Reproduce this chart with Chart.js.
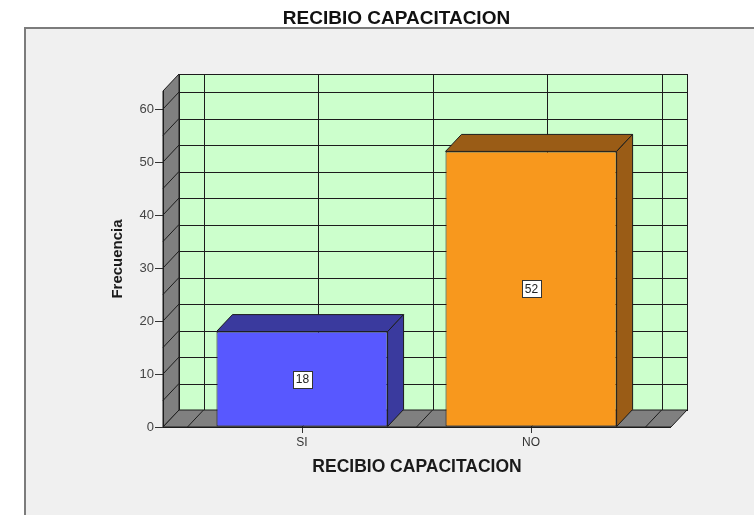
<!DOCTYPE html>
<html>
<head>
<meta charset="utf-8">
<script src="https://cdn.jsdelivr.net/npm/chart.js@4/dist/chart.umd.min.js"></script>
<style>
  html, body { margin: 0; padding: 0; background: #ffffff; }
  canvas { display: block; }
</style>
</head>
<body>
<canvas id="grafico" width="754" height="515"></canvas>
<script>
// Frecuencias de la variable "Recibió capacitación"
const categories = ['SI', 'NO'];
const frecuencias = [18, 52];
const yTickStep = 10;
const yMax = 63.4;
const tituloGrafico = 'RECIBIO CAPACITACION';
const tituloEjeX = 'RECIBIO CAPACITACION';
const tituloEjeY = 'Frecuencia';

// Estilo
const FONT = '"Liberation Sans", Arial, Helvetica, sans-serif';
const frontColors = ['#5858ff', '#f8981d'];
const sideColors = ['#3a3a9e', '#9a5c16'];
const EDGE = '#1c1c1c';
const WALL_BACK = '#ccffcc';
const WALL_SIDE = '#808080';
const DX = 16, DY = -17;      // profundidad del efecto 3D
const GRID_STEP_Y = 5;        // rejilla de la pared del fondo
const GRID_STEP_X = 0.5;

// Fondo gris del marco del gráfico
const panelPlugin = {
  id: 'panel',
  beforeDraw(chart) {
    const { ctx, width, height } = chart;
    ctx.save();
    ctx.fillStyle = '#ffffff';
    ctx.fillRect(0, 0, width, height);
    ctx.fillStyle = '#f0f0f0';
    ctx.fillRect(24, 27, width - 24, height - 27);
    ctx.strokeStyle = '#7c7c7c';
    ctx.lineWidth = 2;
    ctx.beginPath();
    ctx.moveTo(25, height);
    ctx.lineTo(25, 28);
    ctx.lineTo(width, 28);
    ctx.stroke();
    ctx.restore();
  }
};

// Paredes, suelo y rejilla en perspectiva
const cajaPlugin = {
  id: 'caja3d',
  beforeDatasetsDraw(chart) {
    const { ctx } = chart;
    const xs = chart.scales.x, ys = chart.scales.y;
    const L = xs.getPixelForValue(xs.min), R = xs.getPixelForValue(xs.max);
    const B = ys.getPixelForValue(0), T = ys.getPixelForValue(ys.max);
    const s = v => Math.round(v) + 0.5;
    ctx.save();
    ctx.lineWidth = 1;
    ctx.strokeStyle = EDGE;

    // pared del fondo
    ctx.fillStyle = WALL_BACK;
    ctx.fillRect(L + DX, T + DY, R - L, B - T);
    ctx.beginPath();
    for (let v = GRID_STEP_Y; v < ys.max; v += GRID_STEP_Y) {
      const y = s(ys.getPixelForValue(v) + DY);
      ctx.moveTo(L + DX, y); ctx.lineTo(R + DX, y);
    }
    for (let v = -0.5; v <= categories.length - 0.5 + 1e-9; v += GRID_STEP_X) {
      const x = s(xs.getPixelForValue(v) + DX);
      ctx.moveTo(x, T + DY); ctx.lineTo(x, B + DY);
    }
    ctx.stroke();
    ctx.strokeRect(s(L + DX), s(T + DY), Math.round(R - L), Math.round(B - T));

    // pared lateral izquierda
    ctx.fillStyle = WALL_SIDE;
    ctx.beginPath();
    ctx.moveTo(L, B); ctx.lineTo(L, T); ctx.lineTo(L + DX, T + DY); ctx.lineTo(L + DX, B + DY);
    ctx.closePath();
    ctx.fill(); ctx.stroke();
    ctx.beginPath();
    for (let v = GRID_STEP_Y; v < ys.max; v += GRID_STEP_Y) {
      const y = ys.getPixelForValue(v);
      ctx.moveTo(L, y); ctx.lineTo(L + DX, y + DY);
    }
    ctx.stroke();

    // suelo
    ctx.beginPath();
    ctx.moveTo(L, B); ctx.lineTo(R, B); ctx.lineTo(R + DX, B + DY); ctx.lineTo(L + DX, B + DY);
    ctx.closePath();
    ctx.fill(); ctx.stroke();
    ctx.beginPath();
    for (let v = -0.5; v <= categories.length - 0.5 + 1e-9; v += GRID_STEP_X) {
      const x = xs.getPixelForValue(v);
      ctx.moveTo(x, B); ctx.lineTo(x + DX, B + DY);
    }
    ctx.stroke();

    // aristas frontales
    ctx.beginPath();
    ctx.moveTo(s(L), T); ctx.lineTo(s(L), B);
    ctx.moveTo(L, s(B)); ctx.lineTo(R, s(B));
    ctx.stroke();
    ctx.restore();
  },
  afterDatasetsDraw(chart) {
    const { ctx } = chart;
    const meta = chart.getDatasetMeta(0);
    ctx.save();
    ctx.lineWidth = 1;
    ctx.strokeStyle = EDGE;
    meta.data.forEach((bar, i) => {
      const { x, y, base, width } = bar.getProps(['x', 'y', 'base', 'width'], true);
      const l = x - width / 2, r = x + width / 2;
      ctx.fillStyle = sideColors[i];
      // cara superior
      ctx.beginPath();
      ctx.moveTo(l, y); ctx.lineTo(l + DX, y + DY); ctx.lineTo(r + DX, y + DY); ctx.lineTo(r, y);
      ctx.closePath();
      ctx.fill(); ctx.stroke();
      // cara lateral
      ctx.beginPath();
      ctx.moveTo(r, y); ctx.lineTo(r + DX, y + DY); ctx.lineTo(r + DX, base + DY); ctx.lineTo(r, base);
      ctx.closePath();
      ctx.fill(); ctx.stroke();

      // etiqueta del valor
      const cy = (y + base) / 2;
      const bw = 19, bh = 17;
      ctx.fillStyle = '#ffffff';
      ctx.fillRect(Math.round(x - bw / 2) + 0.5, Math.round(cy - bh / 2) + 0.5, bw, bh);
      ctx.strokeStyle = '#333333';
      ctx.strokeRect(Math.round(x - bw / 2) + 0.5, Math.round(cy - bh / 2) + 0.5, bw, bh);
      ctx.strokeStyle = EDGE;
      ctx.fillStyle = '#222222';
      ctx.font = '12px ' + FONT;
      ctx.textAlign = 'center';
      ctx.textBaseline = 'middle';
      ctx.fillText(String(frecuencias[i]), Math.round(x) + 0.5, Math.round(cy) + 1);
    });
    ctx.restore();
  }
};

new Chart(document.getElementById('grafico'), {
  type: 'bar',
  data: {
    datasets: [{
      data: frecuencias.map((v, i) => ({ x: i, y: v })),
      backgroundColor: frontColors,
      borderColor: EDGE,
      borderWidth: 1,
      borderSkipped: false,
      categoryPercentage: 1,
      barPercentage: 0.747
    }]
  },
  options: {
    responsive: false,
    animation: false,
    devicePixelRatio: 1,
    layout: { padding: { left: 39, right: 0, top: 0, bottom: 0 } },
    plugins: {
      legend: { display: false },
      tooltip: { enabled: false },
      title: {
        display: true,
        text: tituloGrafico,
        color: '#111111',
        font: { family: FONT, size: 19, weight: 'bold' },
        padding: { top: 7, bottom: 61.2 }
      }
    },
    scales: {
      x: {
        type: 'linear',
        offset: false,
        min: -0.607,
        max: 1.611,
        afterBuildTicks: sc => { sc.ticks = categories.map((c, i) => ({ value: i })); },
        afterFit: sc => { sc.height = 88; },
        grid: { offset: false, drawOnChartArea: false, drawTicks: true, tickLength: 6, color: '#333333' },
        border: { display: false },
        ticks: {
          callback: v => categories[v],
          color: '#333333',
          font: { family: FONT, size: 12 },
          padding: 2,
          autoSkip: false,
          maxRotation: 0
        },
        title: {
          display: true,
          text: tituloEjeX,
          color: '#1a1a1a',
          font: { family: FONT, size: 17.5, weight: 'bold' },
          padding: 37.5
        }
      },
      y: {
        min: 0,
        max: yMax,
        afterFit: sc => { sc.width = 124; },
        ticks: {
          stepSize: yTickStep,
          includeBounds: false,
          color: '#444444',
          font: { family: FONT, size: 13 },
          padding: 1
        },
        grid: { drawOnChartArea: false, drawTicks: true, tickLength: 8, color: '#333333' },
        border: { display: false },
        title: {
          display: true,
          text: tituloEjeY,
          color: '#1a1a1a',
          font: { family: FONT, size: 15, weight: 'bold' },
          padding: 70
        }
      },
      yR: {
        type: 'linear',
        position: 'right',
        display: true,
        min: 0,
        max: 1,
        afterFit: sc => { sc.width = 83; },
        grid: { display: false },
        ticks: { display: false },
        border: { display: false }
      }
    }
  },
  plugins: [panelPlugin, cajaPlugin]
});
</script>
</body>
</html>
